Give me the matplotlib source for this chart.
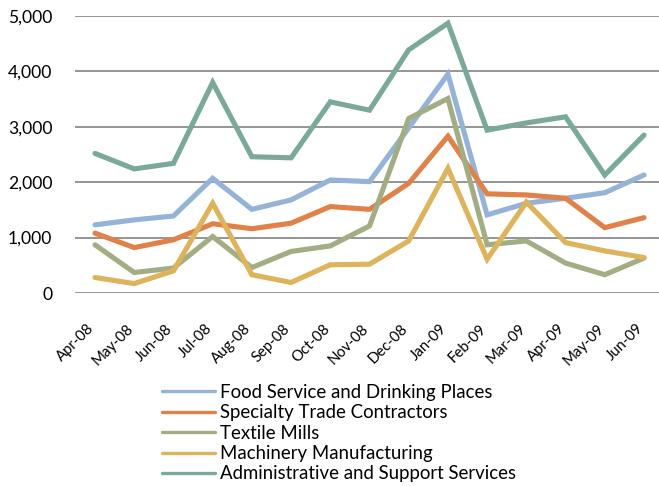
import matplotlib
matplotlib.use("Agg")
import matplotlib.pyplot as plt
import matplotlib.transforms as mtransforms
from matplotlib.ticker import FuncFormatter

plt.rcParams['font.family'] = ['Lato', 'DejaVu Sans']

months = ["Apr-08", "May-08", "Jun-08", "Jul-08", "Aug-08", "Sep-08", "Oct-08", "Nov-08",
          "Dec-08", "Jan-09", "Feb-09", "Mar-09", "Apr-09", "May-09", "Jun-09"]

food_service = [1230, 1320, 1390, 2070, 1510, 1680, 2040, 2010, 2980, 3950, 1410, 1620, 1710, 1810, 2130]
specialty_trade = [1080, 820, 960, 1250, 1160, 1260, 1560, 1510, 1980, 2830, 1790, 1770, 1710, 1180, 1360]
textile_mills = [870, 370, 450, 1020, 460, 750, 850, 1210, 3150, 3510, 870, 940, 540, 330, 630]
machinery = [280, 170, 400, 1620, 330, 190, 510, 520, 940, 2250, 610, 1640, 910, 760, 640]
admin_support = [2520, 2240, 2340, 3800, 2460, 2440, 3450, 3300, 4390, 4870, 2940, 3070, 3180, 2130, 2850]

series = [
    ("Food Service and Drinking Places", food_service, "#95B3D7"),
    ("Specialty Trade Contractors", specialty_trade, "#E0814A"),
    ("Textile Mills", textile_mills, "#A3AD84"),
    ("Machinery Manufacturing", machinery, "#DDB35B"),
    ("Administrative and Support Services", admin_support, "#7AA99A"),
]

fig = plt.figure(figsize=(6.59, 4.86), dpi=100)
ax = fig.add_axes([75.4 / 659, 1 - 293 / 486, 588.2 / 659, 277 / 486])

x = range(len(months))
for name, vals, color in series:
    ax.plot(x, vals, color=color, lw=3.7, label=name, solid_joinstyle='miter', solid_capstyle='round')

ax.set_xlim(-0.5, len(months) - 0.5)
ax.set_ylim(0, 5000)
ax.set_yticks(range(0, 5001, 1000))
ax.yaxis.set_major_formatter(FuncFormatter(lambda v, p: f"{int(v):,}"))
ax.grid(axis='y', color='#8C8C8C', lw=1.3)
ax.set_axisbelow(True)
for s in ax.spines.values():
    s.set_visible(False)
ax.tick_params(length=0)
ax.tick_params(axis='y', labelsize=12.6, pad=16.5)
ax.tick_params(axis='x', pad=20.5)
ax.set_xticks(list(x))
ax.set_xticklabels(months, rotation=45, ha='right', va='top', fontsize=10.7)
shift = mtransforms.ScaledTranslation(2 / 100, 0, fig.dpi_scale_trans)
for lbl in ax.get_xticklabels():
    lbl.set_transform(lbl.get_transform() + shift)

leg = fig.legend(loc='upper left', bbox_to_anchor=(162 / 659, 1 - 384 / 486), frameon=False,
                 fontsize=13.4, handlelength=2.85, handletextpad=0.27, labelspacing=0.18,
                 borderaxespad=0, borderpad=0)
for line in leg.get_lines():
    line.set_linewidth(2.4)

fig.savefig("out.png", dpi=100)
